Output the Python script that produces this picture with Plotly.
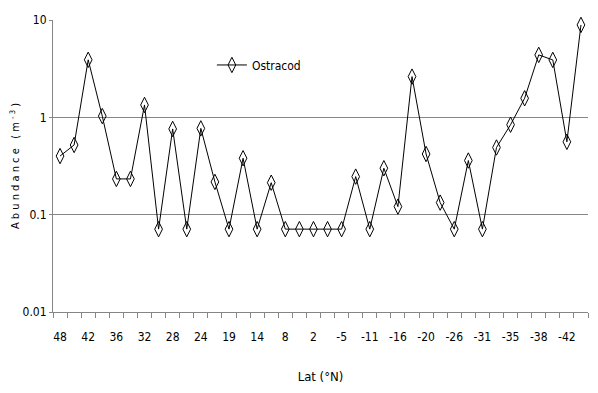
import plotly.graph_objects as go

# Latitude tick labels (every second station is labelled)
tick_labels = ["48", "42", "36", "32", "28", "24", "19", "14", "8", "2",
               "-5", "-11", "-16", "-20", "-26", "-31", "-35", "-38", "-42"]

# Ostracod abundance (m^-3) per station, north to south
ostracod = [0.40, 0.52, 3.9, 1.03, 0.233, 0.233, 1.34, 0.071, 0.76, 0.071,
            0.77, 0.217, 0.071, 0.38, 0.071, 0.213, 0.071, 0.071, 0.071, 0.071,
            0.071, 0.246, 0.071, 0.30, 0.121, 2.62, 0.42, 0.133, 0.071, 0.36,
            0.071, 0.49, 0.84, 1.57, 4.38, 3.89, 0.56, 8.9]

stations = list(range(len(ostracod)))
tick_positions = stations[::2][:len(tick_labels)]

FONT = "Liberation Sans Narrow, DejaVu Sans Condensed, Arial Narrow, Liberation Sans, sans-serif"

fig = go.Figure()
fig.add_trace(go.Scatter(
    x=stations, y=ostracod, mode="lines+markers", name="Ostracod",
    line=dict(color="black", width=1),
    marker=dict(symbol="diamond-tall-open", size=11, color="black",
                line=dict(color="black", width=1)),
    cliponaxis=False,
))

fig.update_layout(
    width=598, height=393,
    margin=dict(l=53, r=10, t=20, b=81),
    paper_bgcolor="white", plot_bgcolor="white",
    font=dict(family=FONT, size=12, color="black"),
    showlegend=True,
    legend=dict(x=0.297, y=0.846, xanchor="left", yanchor="middle",
                bgcolor="rgba(0,0,0,0)", font=dict(family=FONT, size=12),
                itemwidth=30),
    xaxis=dict(
        range=[-0.5, len(ostracod) - 0.5],
        tickmode="array", tickvals=tick_positions, ticktext=tick_labels,
        ticks="outside", ticklen=14, tickcolor="rgba(0,0,0,0)",
        tickfont=dict(family=FONT, size=12),
        showgrid=False, zeroline=False,
        showline=True, linecolor="#868686", linewidth=1,
        minor=dict(ticks="outside", tick0=-0.5, dtick=1, ticklen=5,
                   tickcolor="#868686", showgrid=False),
        title=dict(text="Lat (°N)", font=dict(family=FONT, size=13), standoff=28),
        automargin=False,
    ),
    yaxis=dict(
        type="log", range=[-2, 1],
        tickvals=[0.01, 0.1, 1, 10], ticktext=["0.01", "0.1", "1", "10"],
        ticks="outside", ticklen=3, tickcolor="#868686",
        tickfont=dict(family=FONT, size=12),
        showgrid=True, gridcolor="#868686", gridwidth=1,
        showline=True, linecolor="#868686", linewidth=1,
        zeroline=False,
        title=dict(text="A b u n d a n c e   ( m <sup>- 3</sup> )",
                   font=dict(family=FONT, size=11), standoff=0),
        automargin=False,
    ),
)

fig.write_html("out.html", config={"displayModeBar": False},
               post_script="document.body.style.margin='0';document.body.style.padding='0';")
